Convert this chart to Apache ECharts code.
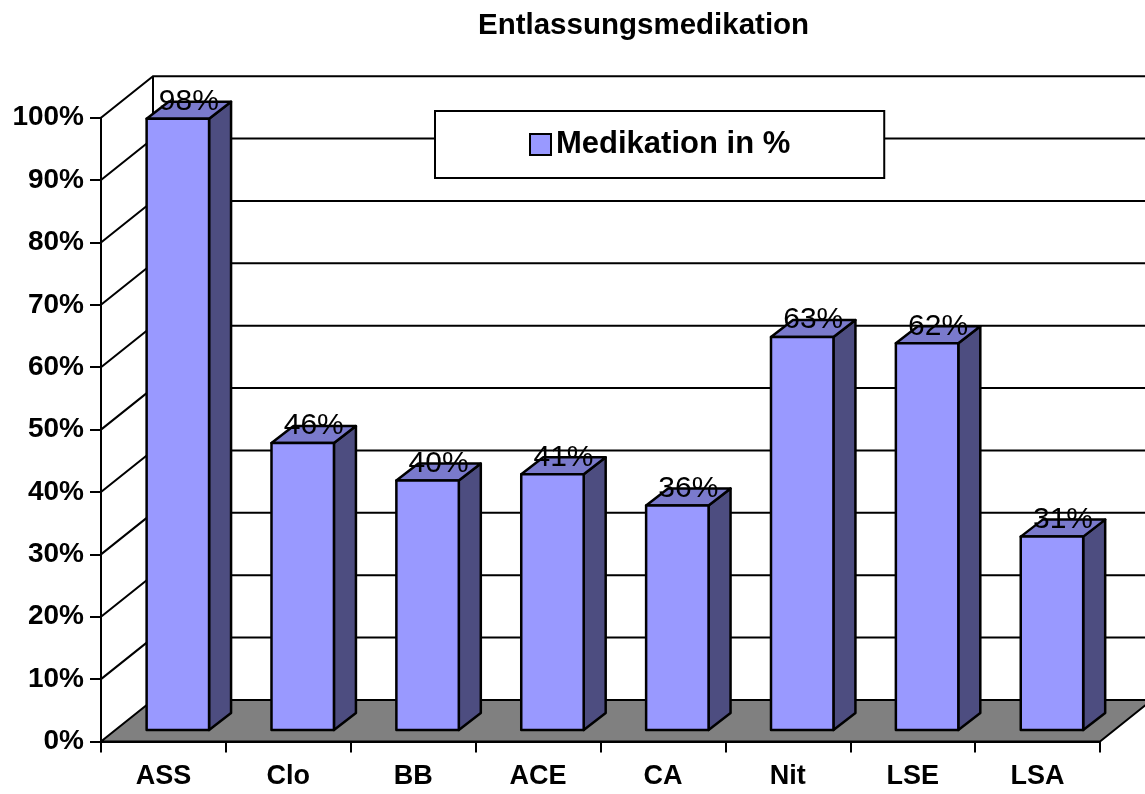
<!DOCTYPE html>
<html>
<head>
<meta charset="utf-8">
<script src="https://cdn.jsdelivr.net/npm/echarts@6/dist/echarts.min.js"></script>
<style>
  html, body { margin: 0; padding: 0; background: #fff; }
  #chart { width: 1145px; height: 794px; }
</style>
</head>
<body>
<div id="chart"></div>
<script>
// Daten
const categories = ['ASS', 'Clo', 'BB', 'ACE', 'CA', 'Nit', 'LSE', 'LSA'];
const medikation = [98, 46, 40, 41, 36, 63, 62, 31];
const yTicks = [0, 10, 20, 30, 40, 50, 60, 70, 80, 90, 100];

const FONT = '"Liberation Sans", Arial, sans-serif';

// 3D-Versatz: Rückwand, Vorderseite der Säulen, Tiefe der Säulen
const WALL_DX = 52, WALL_DY = -41.5;
const BAR_DX = 14.4, BAR_DY = -11.5;
const DEPTH_DX = 22, DEPTH_DY = -17;

const chart = echarts.init(document.getElementById('chart'));

// Rückwand mit Gitterlinien und Boden
function renderWall(params, api) {
  const cs = params.coordSys;
  const v = api.value(1);
  const y = api.coord([0, v])[1];
  const x0 = cs.x, x1 = cs.x + cs.width;
  const line = { fill: 'none', stroke: '#000', lineWidth: 2 };
  const children = [];
  if (v === 0) {
    children.push({
      type: 'polygon',
      shape: { points: [[x0, y], [x1, y], [x1 + WALL_DX, y + WALL_DY], [x0 + WALL_DX, y + WALL_DY]] },
      style: { fill: '#808080', stroke: '#000', lineWidth: 2 }
    });
    const yTop = api.coord([0, yTicks[yTicks.length - 1]])[1];
    children.push({
      type: 'line',
      shape: { x1: x0 + WALL_DX, y1: y + WALL_DY, x2: x0 + WALL_DX, y2: yTop + WALL_DY },
      style: line
    });
  } else {
    children.push({
      type: 'polyline',
      shape: { points: [[x0, y], [x0 + WALL_DX, y + WALL_DY], [x1 + WALL_DX, y + WALL_DY]] },
      style: line
    });
  }
  return { type: 'group', children: children };
}

// Säulen als Quader
function renderBar(params, api) {
  const idx = api.value(0);
  const val = api.value(1);
  const top = api.coord([idx, val]);
  const base = api.coord([idx, 0]);
  const w = api.size([1, 0])[0] * 0.5;
  const xl = top[0] - w / 2 + BAR_DX;
  const xr = xl + w;
  const yt = top[1] + BAR_DY;
  const yb = base[1] + BAR_DY;
  const edge = { stroke: '#000', lineWidth: 2.5, lineJoin: 'round' };
  return {
    type: 'group',
    children: [
      {
        type: 'polygon',
        shape: { points: [[xr, yt], [xr + DEPTH_DX, yt + DEPTH_DY], [xr + DEPTH_DX, yb + DEPTH_DY], [xr, yb]] },
        style: Object.assign({ fill: '#4D4D80' }, edge)
      },
      {
        type: 'polygon',
        shape: { points: [[xl, yt], [xr, yt], [xr + DEPTH_DX, yt + DEPTH_DY], [xl + DEPTH_DX, yt + DEPTH_DY]] },
        style: Object.assign({ fill: '#7A7ACC' }, edge)
      },
      {
        type: 'rect',
        shape: { x: xl, y: yt, width: w, height: yb - yt },
        style: Object.assign({ fill: '#9999FF' }, edge)
      },
      {
        type: 'text',
        style: {
          text: val + '%',
          x: (xl + xr) / 2 + DEPTH_DX / 2,
          y: yt + DEPTH_DY,
          align: 'center',
          verticalAlign: 'middle',
          fill: '#000',
          fontSize: 30,
          fontFamily: FONT
        }
      }
    ]
  };
}

const option = {
  animation: false,
  title: {
    text: 'Entlassungsmedikation',
    left: 473,
    top: 6,
    textStyle: { fontSize: 29.5, fontWeight: 'bold', fontFamily: FONT, color: '#000' }
  },
  legend: {
    data: [{ name: 'Medikation in %', icon: 'rect' }],
    left: 435,
    top: 111,
    padding: [18, 94, 18, 94],
    backgroundColor: '#fff',
    borderColor: '#000',
    borderWidth: 2,
    borderRadius: 0,
    itemWidth: 21,
    itemHeight: 21,
    itemStyle: { borderColor: '#000', borderWidth: 2 },
    textStyle: { fontSize: 31, fontWeight: 'bold', fontFamily: FONT, color: '#000' },
    selectedMode: false
  },
  grid: {
    left: 101,
    right: 45,
    top: 117.7,
    bottom: 52.5,
    containLabel: false
  },
  xAxis: {
    type: 'category',
    data: categories,
    axisLine: { lineStyle: { color: '#000', width: 2 } },
    axisTick: { show: true, length: 11, lineStyle: { color: '#000', width: 2 } },
    axisLabel: { fontSize: 27, fontWeight: 'bold', fontFamily: FONT, color: '#000', margin: 22 },
    splitLine: { show: false }
  },
  yAxis: {
    type: 'value',
    min: 0,
    max: 100,
    interval: 10,
    axisLine: { show: true, lineStyle: { color: '#000', width: 2 } },
    axisTick: { show: true, length: 11, lineStyle: { color: '#000', width: 2 } },
    axisLabel: { formatter: '{value}%', fontSize: 28, fontWeight: 'bold', fontFamily: FONT, color: '#000', margin: 17 },
    splitLine: { show: false }
  },
  series: [
    {
      name: 'Wand',
      type: 'custom',
      renderItem: renderWall,
      data: yTicks.map(v => [0, v]),
      encode: { x: 0, y: 1 },
      silent: true,
      z: 1
    },
    {
      name: 'Medikation in %',
      type: 'custom',
      renderItem: renderBar,
      data: medikation.map((v, i) => [i, v]),
      encode: { x: 0, y: 1 },
      itemStyle: { color: '#9999FF' },
      z: 2
    }
  ]
};

chart.setOption(option);
</script>
</body>
</html>
